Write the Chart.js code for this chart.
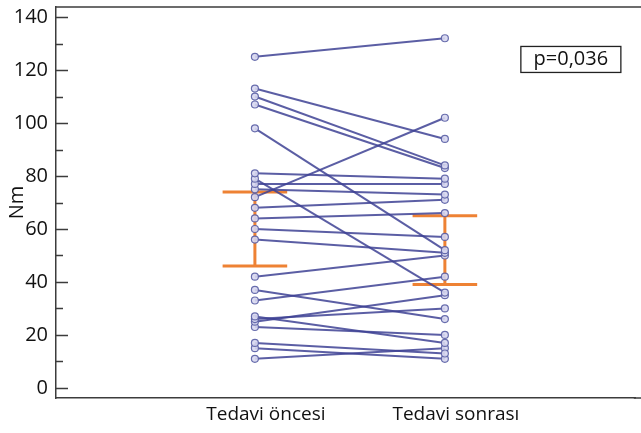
<!DOCTYPE html>
<html>
<head>
<meta charset="utf-8">
<script src="https://cdn.jsdelivr.net/npm/chart.js@4/dist/chart.umd.min.js"></script>
<style>
  html, body { margin: 0; padding: 0; background: #fff; }
  #wrap { width: 641px; height: 433px; }
</style>
</head>
<body>
<div id="wrap"><canvas id="paired"></canvas></div>
<script>
// DATA
const categories = ['Tedavi öncesi', 'Tedavi sonrası'];
// one value per subject, same order in both arrays
const before = [125, 113, 110, 107, 98, 81, 79, 77, 72, 75, 68, 64, 60, 56, 42, 37, 33, 27, 26, 25, 23, 17, 15, 11];
const after  = [132, 94, 84, 83, 52, 79, 36, 77, 102, 73, 71, 66, 57, 51, 50, 26, 42, 17, 30, 35, 20, 13, 11, 15];
// orange bars
const errLow  = [46, 39];
const errHigh = [74, 65];
const yTicks = [0, 10, 20, 30, 40, 50, 60, 70, 80, 90, 100, 110, 120, 130, 140];
const pText = 'p=0,036';

const FONT = "'Open Sans', 'DejaVu Sans', sans-serif";
const AXIS = '#3c3c3c';
const BLUE = 'rgba(62, 66, 148, 0.85)';
const ORANGE = '#ee8234';
const CAP = 0.17;

const datasets = [];

// subject lines
before.forEach((b, i) => {
    datasets.push({
        data: [{ x: 0, y: b }, { x: 1, y: after[i] }],
        borderColor: BLUE,
        borderWidth: 2,
        pointRadius: 3.5,
        pointBackgroundColor: 'rgba(215, 215, 240, 0.9)',
        pointBorderColor: 'rgba(90, 95, 165, 0.9)',
        pointBorderWidth: 1.2,
        fill: false
    });
});

// error bars (drawn underneath)
categories.forEach((c, i) => {
    const orange = { borderColor: ORANGE, borderWidth: 3, pointRadius: 0, fill: false };
    datasets.push(Object.assign({ data: [{ x: i, y: errLow[i] }, { x: i, y: errHigh[i] }] }, orange));
    datasets.push(Object.assign({ data: [{ x: i - CAP, y: errLow[i] }, { x: i + CAP, y: errLow[i] }] }, orange));
    datasets.push(Object.assign({ data: [{ x: i - CAP, y: errHigh[i] }, { x: i + CAP, y: errHigh[i] }] }, orange));
});

// inward tick marks, frame lines to the edge and p value box
const extras = {
    id: 'extras',
    afterDraw(chart) {
        const ctx = chart.ctx;
        const a = chart.chartArea;
        const y = chart.scales.y;
        ctx.save();
        ctx.strokeStyle = AXIS;
        ctx.lineWidth = 1.5;
        ctx.beginPath();
        ctx.moveTo(a.left, a.top);
        ctx.lineTo(chart.width, a.top);
        ctx.moveTo(a.right - 2, a.bottom);
        ctx.lineTo(chart.width, a.bottom);
        yTicks.forEach(v => {
            const py = Math.round(y.getPixelForValue(v)) + 0.5;
            ctx.moveTo(a.left, py);
            ctx.lineTo(a.left + (v % 20 === 0 ? 12 : 7), py);
        });
        ctx.stroke();

        ctx.font = '20px ' + FONT;
        ctx.fillStyle = '#111';
        ctx.textAlign = 'center';
        ctx.textBaseline = 'middle';
        const cx = a.left + (a.right - a.left) * 0.888;
        const cy = y.getPixelForValue(124);
        ctx.fillText(pText, cx, cy);
        ctx.lineWidth = 1.3;
        ctx.strokeStyle = '#222';
        ctx.strokeRect(cx - 50, cy - 13, 100, 26);
        ctx.restore();
    }
};

new Chart(document.getElementById('paired').getContext('2d'), {
    type: 'line',
    data: { datasets: datasets },
    options: {
        responsive: true,
        maintainAspectRatio: false,
        animation: false,
        layout: { padding: { top: 7, right: 0, left: 0, bottom: 0 } },
        plugins: {
            legend: { display: false },
            tooltip: { enabled: false }
        },
        scales: {
            x: {
                type: 'linear',
                min: -1.047,
                max: 2.005,
                afterBuildTicks: s => { s.ticks = categories.map((c, i) => ({ value: i })); },
                afterFit: s => { s.height = 35; s.paddingLeft = 0; s.paddingRight = 0; },
                ticks: {
                    callback: v => categories[v],
                    color: '#111',
                    padding: 5,
                    labelOffset: 11,
                    autoSkip: false,
                    maxRotation: 0,
                    font: { family: FONT, size: 19 }
                },
                grid: { display: false, drawTicks: false },
                border: { display: true, color: AXIS, width: 1.5 }
            },
            y: {
                min: -3.8,
                max: 143.8,
                afterBuildTicks: s => { s.ticks = yTicks.map(v => ({ value: v })); },
                afterFit: s => { s.width = 56; s.paddingTop = 0; s.paddingBottom = 0; },
                ticks: {
                    callback: v => (v % 20 === 0 ? v : ''),
                    color: '#111',
                    padding: 8,
                    autoSkip: false,
                    font: { family: FONT, size: 20 }
                },
                title: {
                    display: true,
                    text: 'Nm',
                    color: '#111',
                    padding: { top: 5, bottom: 0 },
                    font: { family: FONT, size: 20 }
                },
                grid: { display: false, drawTicks: false },
                border: { display: true, color: AXIS, width: 1.5 }
            }
        }
    },
    plugins: [extras]
});
</script>
</body>
</html>
